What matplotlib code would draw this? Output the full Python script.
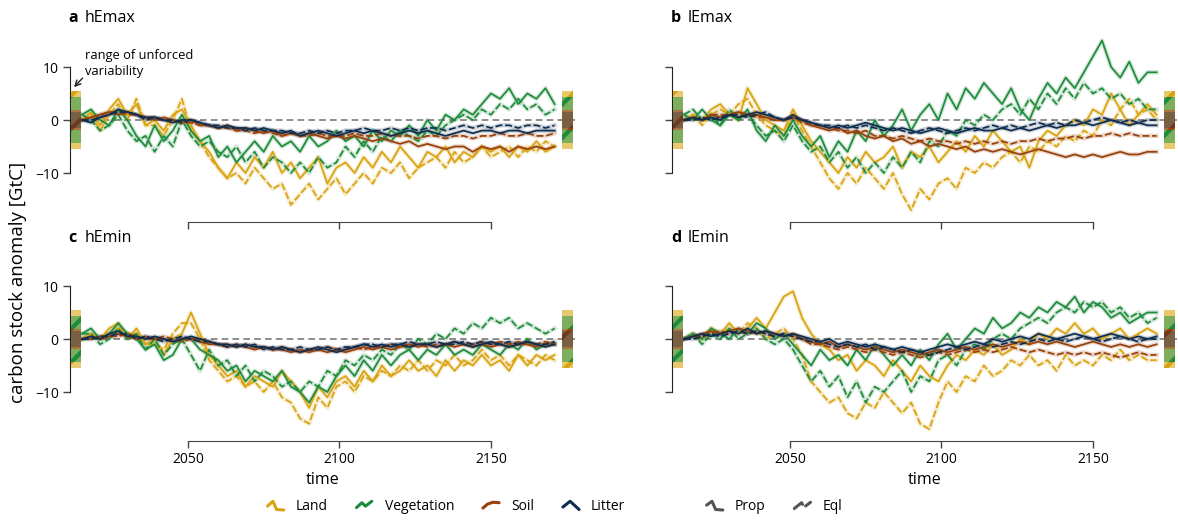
import numpy as np
import matplotlib
matplotlib.use("Agg")
import matplotlib.pyplot as plt
from matplotlib.patches import Rectangle
from matplotlib.lines import Line2D
from matplotlib.legend_handler import HandlerBase

plt.rcParams["font.family"] = ["Open Sans", "DejaVu Sans"]
plt.rcParams["hatch.linewidth"] = 3.0

# ---------------------------------------------------------------- data
YEARS = list(range(2015, 2172, 3))

# hEmax
HEMAX_LAND_PROP = [0, 1.5, -1, 2, 4, 1, 3, -1, 0, -2,
                   1, 2, -1, -4, -6, -9, -11, -8, -10, -7,
                   -9, -6, -10, -8, -11, -9, -7, -12, -9, -8,
                   -10, -7, -9, -6, -8, -5, -7, -9, -6, -7,
                   -5, -8, -6, -7, -5, -6, -5, -7, -5, -6,
                   -4, -6, -5]
HEMAX_LAND_EQL = [0, 1, -2, 1, 3, 0, 4, -1, -1, -3,
                  0, 4, -2, -4, -7, -9, -11, -10, -12, -9,
                  -11, -13, -12, -16, -14, -12, -15, -13, -11, -14,
                  -12, -10, -12, -9, -10, -8, -11, -9, -8, -7,
                  -9, -6, -8, -7, -5, -7, -6, -5, -7, -5,
                  -6, -4, -5]
HEMAX_VEG_PROP = [1, 2, 0, -1, 2, 0, -3, -5, -1, -4,
                  -2, 1, -2, -4, -3, -7, -5, -8, -6, -4,
                  -6, -3, -5, -4, -6, -3, -5, -4, -2, -4,
                  -3, -5, -2, -4, -2, -3, -1, -3, 0, -2,
                  1, 0, 2, 1, 3, 5, 4, 6, 3, 5,
                  4, 6, 3]
HEMAX_VEG_EQL = [1, 0, -2, -1, 1, -2, -4, -3, -6, -3,
                 -5, 0, -3, -5, -4, -6, -7, -5, -8, -6,
                 -9, -7, -8, -10, -8, -10, -7, -9, -8, -5,
                 -7, -4, -6, -3, -4, -2, -3, -4, -2, -3,
                 -1, 0, 1, 0, 2, 1, 3, 2, 4, 2,
                 3, 1, 2]
HEMAX_SOIL_PROP = [0, 0.5, 1, 1.5, 1, 1.5, 1, 0.5, 0, 0.5,
                   0, -0.5, 0, -1, -1, -1.5, -1, -2, -1.5, -2,
                   -2.5, -2, -3, -2.5, -3, -2.5, -3, -3.5, -3, -3.5,
                   -3, -3.5, -4, -3.5, -4, -4.5, -4, -5, -4.5, -5,
                   -5.5, -5, -5, -6, -5, -5.5, -5, -6, -5, -5.5,
                   -5, -5.5, -5]
HEMAX_SOIL_EQL = [0, 0.5, 1, 1.5, 1.5, 1, 1, 0.5, 0.5, 0,
                  0, -0.5, -0.5, -1, -1, -1.5, -1.5, -2, -2, -2.5,
                  -2, -2.5, -3, -2.5, -3, -3, -2.5, -3, -3, -3,
                  -2.5, -3, -3, -2.5, -3, -3, -3, -3.5, -3, -3,
                  -3.5, -3, -3, -3.5, -3, -3, -2.5, -3, -3, -2.5,
                  -3, -3, -2.5]
HEMAX_LITTER_PROP = [0, -0.5, 0.5, 1, 2, 1.5, 1, 0.5, 0.5, 0,
                     -0.5, 0, 0, -0.5, -1, -1.5, -1, -1.5, -1.5, -2,
                     -1.5, -2, -2.5, -2, -3, -2.5, -2, -2.5, -3, -2.5,
                     -2, -2.5, -2, -2.5, -3, -2.5, -2, -2.5, -2, -2.5,
                     -3, -2.5, -2, -2.5, -2, -2, -2.5, -2, -2, -2.5,
                     -2, -2, -2]
HEMAX_LITTER_EQL = [0, 0, 0.5, 1, 1.5, 1.5, 1, 0, 0.5, 0,
                    0, -0.5, 0, -0.5, -1, -1, -1.5, -1.5, -2, -1.5,
                    -2, -2, -2, -2.5, -2.5, -2, -2.5, -2, -2.5, -2,
                    -2, -1.5, -2, -2, -1.5, -2, -1.5, -2, -1.5, -1.5,
                    -2, -1.5, -1, -1.5, -1, -1.5, -1, -1, -1.5, -1,
                    -1, -1.5, -1]

# lEmax
LEMAX_LAND_PROP = [0, 1, 0, 2, 3, 1, 0, 6, 3, 0,
                   -1, -2, 2, -1, -4, -6, -8, -10, -7, -9,
                   -6, -8, -7, -5, -9, -6, -7, -5, -8, -6,
                   -4, -6, -3, -5, -2, -4, -6, -5, -9, -4,
                   -2, -3, -1, 0, -1, 2, 1, 5, 2, -1,
                   1, 3, 1]
LEMAX_LAND_EQL = [0, 1, -1, 1, 2, 1, 3, 4, 1, -1,
                  -2, -3, 1, -2, -5, -8, -11, -13, -10, -12,
                  -9, -11, -13, -10, -14, -17, -13, -15, -12, -11,
                  -13, -9, -10, -8, -9, -7, -6, -8, -5, -6,
                  -4, -5, -3, -4, -2, -3, 0, -1, 2, 4,
                  1, 2, 0]
LEMAX_VEG_PROP = [1, 0, 2, 0, -1, 1, 0, 2, -2, -4,
                  -1, -3, 0, -3, -5, -3, -7, -4, -6, -2,
                  -4, 0, -3, -1, 2, -2, 1, 3, 0, 5,
                  2, 6, 4, 7, 5, 3, 6, 2, 0, 4,
                  7, 5, 8, 6, 9, 12, 15, 10, 8, 11,
                  7, 9, 9]
LEMAX_VEG_EQL = [1, 2, 0, 1, -1, 2, 0, 1, -1, -3,
                 -2, -4, -1, -4, -6, -5, -8, -6, -9, -7,
                 -10, -8, -10, -7, -9, -6, -8, -4, -5, -2,
                 -3, 0, -1, 1, 0, 2, 3, 1, 4, 2,
                 5, 3, 6, 4, 7, 5, 6, 4, 5, 3,
                 4, 2, 2]
LEMAX_SOIL_PROP = [0, 0.5, 0, 1, 0.5, 1, 1.5, 1, 1, 0.5,
                   0, 0, 0.5, 0, -1, -1.5, -2, -1.5, -2.5, -2,
                   -3, -3.5, -3, -4, -3.5, -4.5, -4, -5, -4.5, -5,
                   -5.5, -5, -6, -5.5, -6, -5.5, -6, -6.5, -6, -5.5,
                   -6, -6.5, -7, -6.5, -7, -6.5, -7, -6.5, -6, -6.5,
                   -6.5, -6, -6]
LEMAX_SOIL_EQL = [0, 0.5, 0, 1, 1, 1, 1.5, 1, 0.5, 0.5,
                  0, 0, 0.5, -0.5, -1, -1, -1.5, -2, -2, -2.5,
                  -2, -3, -3, -3.5, -3, -3.5, -4, -3.5, -4, -4,
                  -4.5, -4, -4.5, -4, -4.5, -4, -4.5, -4, -4, -3.5,
                  -4, -3.5, -3.5, -3, -3.5, -3, -3, -2.5, -3, -2.5,
                  -3, -3, -3]
LEMAX_LITTER_PROP = [0, 0.5, 0, 0.5, 0, 1, 0.5, 1, 1.5, 1,
                     0.5, 0, 1, 0, -0.5, -1, -1.5, -1, -1.5, -1,
                     -0.5, -1, -1.5, -2, -1.5, -2, -2.5, -2, -1.5, -2,
                     -2.5, -2, -1.5, -2, -2, -1.5, -2, -1.5, -2, -1.5,
                     -1, -1.5, -1, -1, -0.5, -1, -0.5, 0, -0.5, -1,
                     -0.5, -1, -1]
LEMAX_LITTER_EQL = [0, 0, 0.5, 0, 0.5, 1, 1, 0.5, 1, 1.5,
                    0.5, 0, 0.5, 0, -0.5, -1, -1, -1.5, -1, -1.5,
                    -1, -1.5, -2, -1.5, -2, -2.5, -2, -1.5, -2, -2.5,
                    -2, -1.5, -2, -1.5, -1, -1.5, -1, -1.5, -1, -0.5,
                    -1, -0.5, -1, 0, -0.5, 0, 0.5, 0, -0.5, 0,
                    -0.5, 0, 0]

# hEmin
HEMIN_LAND_PROP = [0, 1, 0, 2, 3, 0, 2, -1, 0, -3,
                   0, 1, 5, 1, -3, -5, -7, -6, -9, -7,
                   -8, -9, -6, -8, -10, -13, -9, -11, -8, -7,
                   -9, -6, -8, -5, -7, -6, -4, -6, -5, -7,
                   -4, -6, -4, -5, -3, -5, -4, -6, -3, -5,
                   -3, -4, -3]
HEMIN_LAND_EQL = [0, 1, 0, 1, 2, 1, 1, -1, -1, -2,
                  1, 3, 3, 0, -4, -6, -8, -7, -9, -8,
                  -10, -8, -11, -12, -15, -16, -11, -13, -9, -8,
                  -10, -7, -8, -6, -7, -5, -6, -4, -6, -4,
                  -5, -3, -5, -4, -2, -4, -3, -5, -3, -4,
                  -5, -3, -4]
HEMIN_VEG_PROP = [1, 2, 0, 1, 3, 1, 0, -2, -1, -4,
                  -3, 0, 0, -2, -3, -4, -6, -5, -8, -6,
                  -7, -8, -6, -9, -10, -12, -9, -10, -7, -5,
                  -7, -4, -6, -3, -5, -3, -2, -4, -2, -3,
                  -1, -3, -2, -3, -1, -2, -3, -1, -2, 0,
                  -2, -1, -1]
HEMIN_VEG_EQL = [1, 1, -1, 0, 2, 0, 1, -2, 0, -3,
                 -1, 0, -3, -6, -2, -5, -4, -7, -5, -8,
                 -6, -7, -9, -8, -10, -8, -9, -6, -7, -4,
                 -5, -3, -4, -2, -3, -1, -2, 0, -1, 1,
                 0, 2, 1, 3, 2, 4, 3, 4, 2, 3,
                 2, 1, 2]
HEMIN_SOIL_PROP = [0, 0, 0.5, 0.5, 1, 0.5, 0, 0.5, 0, 0,
                   -0.5, 0, 0, -0.5, -1, -1, -1.5, -1, -1.5, -2,
                   -1.5, -2, -2, -2.5, -2, -2.5, -2, -2.5, -2, -2.5,
                   -2, -1.5, -2, -1.5, -2, -1.5, -1, -1.5, -1, -1.5,
                   -1, -1.5, -1, -1.5, -1, -1.5, -1, -1.5, -1, -1,
                   -1.5, -1, -1]
HEMIN_SOIL_EQL = [0, 0.5, 0, 0.5, 0.5, 1, 0.5, 0, 0, 0.5,
                  0, -0.5, 0, 0, -0.5, -1, -1, -1.5, -1, -1.5,
                  -1.5, -2, -1.5, -2, -2.5, -2, -2, -1.5, -2, -2,
                  -1.5, -2, -1.5, -1.5, -1, -1.5, -1, -1, -1.5, -1,
                  -1, -0.5, -1, -1, -0.5, -1, -0.5, -1, -0.5, -1,
                  -1, -0.5, -1]
HEMIN_LITTER_PROP = [0, 0.5, 0, 1, 1.5, 0.5, 0.5, 0, 0.5, 0,
                     -0.5, 0, 0.5, 0, -0.5, -1, -1, -1.5, -1, -1.5,
                     -1.5, -2, -1.5, -2, -2.5, -2, -1.5, -2, -2.5, -2,
                     -1.5, -1, -1.5, -1, -1.5, -1, -1.5, -1, -1, -1.5,
                     -1, -0.5, -1, -1.5, -1, -0.5, -1, -1.5, -1, -0.5,
                     -1, -1.5, -1]
HEMIN_LITTER_EQL = [0, 0, 0.5, 0.5, 1, 1, 0, 0.5, 0, -0.5,
                    0, 0.5, 0, -0.5, -0.5, -1, -1.5, -1, -1.5, -1,
                    -2, -1.5, -2, -2, -1.5, -2, -2, -1.5, -2, -1.5,
                    -1.5, -1, -1, -1.5, -1, -1, -0.5, -1, -1, -0.5,
                    -1, -1, -0.5, -1, -0.5, -1, -1, -0.5, -1, -0.5,
                    -1, -1, -0.5]

# lEmin
LEMIN_LAND_PROP = [0, 1, 0, 2, 1, 3, 1, 2, 4, 2,
                   5, 8, 9, 4, 1, -1, -2, -4, -3, -6,
                   -4, -5, -7, -4, -6, -8, -5, -7, -8, -5,
                   -3, -4, -2, -3, -1, -3, -2, 0, -1, 1,
                   0, 2, 1, 3, 1, 2, 0, 1, 2, 0,
                   1, 2, 1]
LEMIN_LAND_EQL = [0, 1, 0, 2, 1, 2, 1, 3, 2, 0,
                  1, 2, 0, -3, -8, -10, -12, -11, -14, -15,
                  -12, -13, -10, -12, -14, -12, -16, -17, -12, -8,
                  -10, -7, -8, -5, -7, -6, -4, -5, -3, -5,
                  -4, -6, -3, -5, -4, -5, -3, -4, -2, -4,
                  -3, -4, -4]
LEMIN_VEG_PROP = [0, 1, 0, 2, 1, 0, 2, 1, 3, 2,
                  0, 1, -1, -3, -5, -2, -4, -3, -5, -2,
                  -4, -1, -3, -5, -3, -5, -2, -4, -1, 1,
                  -2, 0, 2, 1, 4, 2, 3, 5, 4, 6,
                  5, 7, 6, 8, 5, 7, 6, 4, 5, 3,
                  4, 5, 5]
LEMIN_VEG_EQL = [0, 1, -1, 1, 0, 2, 0, 1, 2, 0,
                 -1, 0, -2, -5, -8, -6, -9, -7, -11, -8,
                 -12, -9, -10, -8, -6, -10, -7, -8, -4, -3,
                 -5, -2, -1, -2, 0, 1, 0, 2, 3, 4,
                 3, 5, 6, 5, 7, 6, 7, 5, 6, 4,
                 5, 3, 4]
LEMIN_SOIL_PROP = [0, 0.5, 1, 1.5, 1, 1.5, 2, 1.5, 1, 1.5,
                   1, 0.5, 1, 0, -0.5, -1, -0.5, -1.5, -1, -1.5,
                   -2, -1.5, -2, -2.5, -2, -2.5, -3, -2.5, -2, -2.5,
                   -2, -1.5, -2, -1.5, -1, -1.5, -1, -0.5, -1, -0.5,
                   -1, -0.5, -1, -1.5, -1, -0.5, -1, -1.5, -1, -1.5,
                   -1, -1.5, -1]
LEMIN_SOIL_EQL = [0, 0.5, 0.5, 1, 1.5, 1, 1.5, 1, 1.5, 1,
                  0.5, 1, 0.5, 0, -1, -1, -1.5, -2, -1.5, -2,
                  -2.5, -2, -2.5, -3, -2.5, -3, -3.5, -3, -2.5, -3,
                  -2.5, -2, -2.5, -2, -2.5, -2, -1.5, -2, -2.5, -2,
                  -2.5, -3, -2.5, -3, -2.5, -3, -2.5, -3, -3.5, -3,
                  -2.5, -3, -3]
LEMIN_LITTER_PROP = [0, 0.5, 1, 0.5, 1, 1.5, 1, 2, 1, 1.5,
                     1, 0.5, 1, 0.5, 0, -0.5, 0, -1, -0.5, -1,
                     -1.5, -1, -1.5, -2, -1.5, -2, -2.5, -2, -1.5, -1,
                     -1.5, -1, -0.5, -1, 0, -0.5, 0, 0.5, 0, 1,
                     0.5, 0, 0.5, 1, 0.5, 0, 0.5, 1, 0.5, 0,
                     0.5, 0, 0.5]
LEMIN_LITTER_EQL = [0, 0, 0.5, 1, 0.5, 1, 1.5, 1, 1.5, 1,
                    0.5, 1, 0.5, 0, -0.5, -0.5, -1, -1.5, -1, -1.5,
                    -1, -2, -1.5, -2, -2.5, -2, -2.5, -3, -2.5, -2,
                    -1.5, -2, -1.5, -1, -1.5, -1, -0.5, -1, -0.5, 0,
                    -0.5, 0, -0.5, 0, 0.5, 0, -0.5, 0, 0.5, 0,
                    -0.5, 0, 0]

# half-widths of the unforced-variability range per pool [GtC]
VAR_RANGE = {"Land": 5.5, "Vegetation": 4.4, "Soil": 1.9, "Litter": 1.6}

POOLS = ["Land", "Vegetation", "Soil", "Litter"]
COLORS = {"Land": "#D9A30F", "Vegetation": "#1E8B3B",
          "Soil": "#98400A", "Litter": "#0F2D4F"}
LIGHT = {"Land": "#EAC96E", "Vegetation": "#7CAE5E",
         "Soil": "#A8773F", "Litter": "#0F2D4F"}

PANELS = [
    ("a", "hEmax", {"Land": (HEMAX_LAND_PROP, HEMAX_LAND_EQL),
                    "Vegetation": (HEMAX_VEG_PROP, HEMAX_VEG_EQL),
                    "Soil": (HEMAX_SOIL_PROP, HEMAX_SOIL_EQL),
                    "Litter": (HEMAX_LITTER_PROP, HEMAX_LITTER_EQL)}),
    ("b", "lEmax", {"Land": (LEMAX_LAND_PROP, LEMAX_LAND_EQL),
                    "Vegetation": (LEMAX_VEG_PROP, LEMAX_VEG_EQL),
                    "Soil": (LEMAX_SOIL_PROP, LEMAX_SOIL_EQL),
                    "Litter": (LEMAX_LITTER_PROP, LEMAX_LITTER_EQL)}),
    ("c", "hEmin", {"Land": (HEMIN_LAND_PROP, HEMIN_LAND_EQL),
                    "Vegetation": (HEMIN_VEG_PROP, HEMIN_VEG_EQL),
                    "Soil": (HEMIN_SOIL_PROP, HEMIN_SOIL_EQL),
                    "Litter": (HEMIN_LITTER_PROP, HEMIN_LITTER_EQL)}),
    ("d", "lEmin", {"Land": (LEMIN_LAND_PROP, LEMIN_LAND_EQL),
                    "Vegetation": (LEMIN_VEG_PROP, LEMIN_VEG_EQL),
                    "Soil": (LEMIN_SOIL_PROP, LEMIN_SOIL_EQL),
                    "Litter": (LEMIN_LITTER_PROP, LEMIN_LITTER_EQL)}),
]

XLIM = (2011, 2178)
YLIM = (-19.3, 16)
SPINE_COLOR = "#444444"

W, H = 1178, 522
fig = plt.figure(figsize=(W / 100, H / 100), dpi=100)


def px_axes(left, top, width, height):
    return fig.add_axes([left / W, 1 - (top + height) / H, width / W, height / H])


axes = [px_axes(69.8, 35.2, 506, 187.1), px_axes(671.8, 35.2, 506, 187.1),
        px_axes(69.8, 254.2, 506, 187.1), px_axes(671.8, 254.2, 506, 187.1)]


def variability_bar(ax, x0, x1):
    for pool in ["Land", "Vegetation", "Soil"]:
        r = VAR_RANGE[pool]
        ax.add_patch(Rectangle((x0, -r), x1 - x0, 2 * r, facecolor=LIGHT[pool],
                               edgecolor=COLORS[pool], linewidth=0, hatch="/",
                               zorder=3))
    r = VAR_RANGE["Litter"]
    ax.add_patch(Rectangle((x0, -r), x1 - x0, 2 * r, facecolor=COLORS["Litter"],
                           alpha=0.3, linewidth=0, zorder=4))


for ax, (letter, name, series) in zip(axes, PANELS):
    ax.set_xlim(*XLIM)
    ax.set_ylim(*YLIM)
    ax.axhline(0, color="#7a7a7a", lw=1.2, ls=(0, (4, 2.5)), zorder=1)
    for pool in POOLS:
        prop, eql = series[pool]
        c = COLORS[pool]
        for vals, ls in ((eql, (0, (4, 1.6))), (prop, "-")):
            ax.plot(YEARS, vals, color=c, lw=3.2, alpha=0.2, zorder=2,
                    solid_joinstyle="round")
            ax.plot(YEARS, vals, color=c, lw=1.25, ls=ls, zorder=2.5)
    variability_bar(ax, 2011.3, 2014.7)
    variability_bar(ax, 2173.4, 2177.0)

    for s in ("top", "right"):
        ax.spines[s].set_visible(False)
    ax.spines["left"].set_bounds(-10, 10)
    ax.spines["bottom"].set_bounds(2050, 2150)
    ax.spines["left"].set_color("#222222")
    ax.spines["bottom"].set_color(SPINE_COLOR)
    ax.set_yticks([-10, 0, 10])
    ax.set_xticks([2050, 2100, 2150])
    ax.tick_params(axis="both", length=5, width=1, color=SPINE_COLOR,
                   labelsize=10, pad=3)
    ax.patch.set_alpha(0)

axes[1].tick_params(axis="y", labelleft=False)
axes[3].tick_params(axis="y", labelleft=False)
axes[0].tick_params(axis="x", labelbottom=False)
axes[1].tick_params(axis="x", labelbottom=False)
for ax in axes[2:]:
    ax.set_xlabel("time", fontsize=11.5, labelpad=3)

# panel headings
for (letter, name, _), (xl, yl) in zip(PANELS, [(68, 18), (671, 18), (68, 238), (671, 238)]):
    fig.text(xl / W, 1 - yl / H, letter, fontsize=11.5, fontweight="bold", va="center")
    fig.text((xl + 17) / W, 1 - yl / H, name, fontsize=11.5, va="center")

fig.text(18 / W, 1 - 282 / H, "carbon stock anomaly [GtC]", rotation=90,
         fontsize=13.5, va="center", ha="center")

axes[0].text(2016, 10.7, "range of unforced\nvariability", fontsize=9.3,
             va="center", ha="left", linespacing=1.25)
axes[0].annotate("", xy=(2012.4, 6.2), xytext=(2015.2, 7.9),
                 arrowprops=dict(arrowstyle="->", color="#222222", lw=1,
                                 shrinkA=0, shrinkB=0))


# zig-zag legend keys
class ZigzagHandler(HandlerBase):
    def __init__(self, points):
        super().__init__()
        self.points = points

    def create_artists(self, legend, orig_handle, xdescent, ydescent,
                       width, height, fontsize, trans):
        xs = [-xdescent + width * px for px, _ in self.points]
        ys = [-ydescent + height * py for _, py in self.points]
        line = Line2D(xs, ys, color=orig_handle.get_color(), lw=2.2,
                      linestyle=orig_handle.get_linestyle(),
                      solid_capstyle="round", solid_joinstyle="round",
                      dash_capstyle="round")
        line.set_transform(trans)
        return [line]


SHAPES = {
    "Land": [(0.05, 0.45), (0.35, 0.95), (0.55, 0.1), (0.95, 0.05)],
    "Vegetation": [(0.05, 0.3), (0.35, 0.8), (0.55, 0.45), (0.9, 0.95)],
    "Soil": [(0.05, 0.25), (0.3, 0.65), (0.6, 0.85), (0.95, 0.8)],
    "Litter": [(0.05, 0.35), (0.45, 0.95), (0.95, 0.1)],
    "Prop": [(0.05, 0.55), (0.35, 0.95), (0.55, 0.1), (0.95, 0.05)],
    "Eql": [(0.05, 0.2), (0.45, 0.8), (0.6, 0.35), (0.95, 0.85)],
}

pool_handles = [Line2D([], [], color=COLORS[p]) for p in POOLS]
leg1 = fig.legend(pool_handles, POOLS, loc="center", bbox_to_anchor=(446 / W, 1 - 507 / H),
                  ncol=4, frameon=False, fontsize=10, handlelength=1.3,
                  columnspacing=2.0, handletextpad=0.8,
                  handler_map={h: ZigzagHandler(SHAPES[p]) for h, p in zip(pool_handles, POOLS)})
style_handles = [Line2D([], [], color="#555555", ls="-"),
                 Line2D([], [], color="#555555", ls=(0, (2, 1.5)))]
leg2 = fig.legend(style_handles, ["Prop", "Eql"], loc="center",
                  bbox_to_anchor=(774 / W, 1 - 507 / H), ncol=2, frameon=False,
                  fontsize=10, handlelength=1.3, columnspacing=2.0, handletextpad=0.8,
                  handler_map={style_handles[0]: ZigzagHandler(SHAPES["Prop"]),
                               style_handles[1]: ZigzagHandler(SHAPES["Eql"])})

fig.savefig("out.png", dpi=100)
